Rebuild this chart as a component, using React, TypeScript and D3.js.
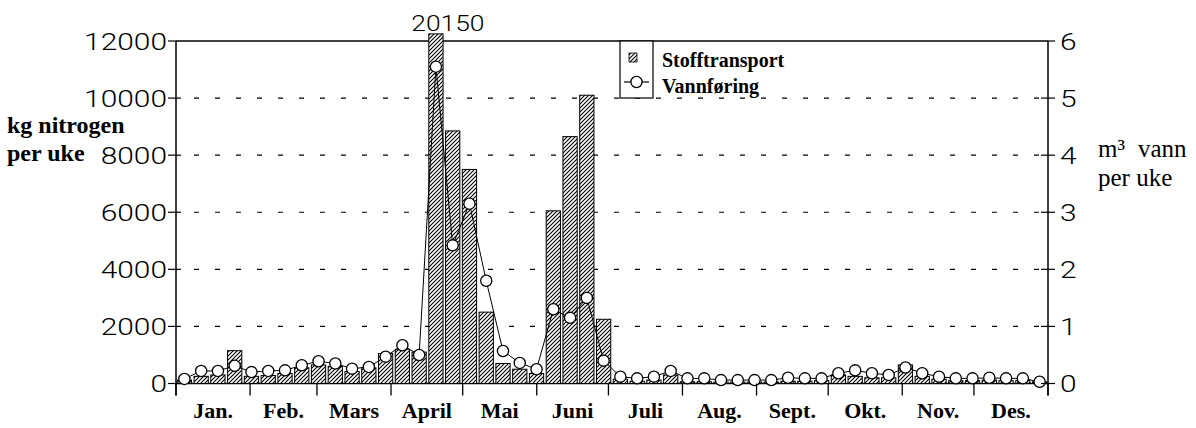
import React from 'react';
import * as d3 from 'd3';

// Weekly nitrogen transport (kg per week), week 1..52
const transport = [
  120, 250, 300, 1150, 250, 280, 350, 550, 650, 600, 420, 550, 1050,
  1200, 1100, 20150, 8850, 7500, 2500, 700, 500, 350, 6050, 8650, 10100, 2250,
  150, 80, 120, 300, 60, 60, 50, 50, 50, 50, 80, 80, 100,
  300, 250, 200, 200, 650, 250, 150, 100, 100, 120, 100, 100, 60,
];
// Weekly water discharge (m3 per week, millions)
const flow = [
  0.08, 0.22, 0.22, 0.31, 0.2, 0.22, 0.23, 0.32, 0.39, 0.35, 0.26, 0.29, 0.47,
  0.67, 0.5, 5.55, 2.42, 3.15, 1.8, 0.57, 0.36, 0.25, 1.3, 1.15, 1.5, 0.4,
  0.12, 0.09, 0.12, 0.22, 0.09, 0.09, 0.06, 0.06, 0.06, 0.06, 0.1, 0.09, 0.09,
  0.18, 0.23, 0.18, 0.15, 0.28, 0.18, 0.12, 0.09, 0.09, 0.1, 0.09, 0.09, 0.03,
];
const months = ['Jan.', 'Feb.', 'Mars', 'April', 'Mai', 'Juni', 'Juli', 'Aug.', 'Sept.', 'Okt.', 'Nov.', 'Des.'];
const monthStartDays = [0, 31, 59, 90, 120, 151, 181, 212, 243, 273, 304, 334, 365];
const leftTicks = [0, 2000, 4000, 6000, 8000, 10000, 12000];
const gridTicks = [2000, 4000, 6000, 8000, 10000];
const rightTicks = [0, 1, 2, 3, 4, 5, 6];
const peakLabel = '20150';
const legendLabels = ['Stofftransport', 'Vannføring'];

const W = 1196, H = 428;
const L = 176, R = 1048, T = 41, B = 383.5;

const sans = 'Roboto, "Liberation Sans", Arial, sans-serif';
const serif = '"Liberation Serif", "Times New Roman", serif';

export default function App() {
  const y = d3.scaleLinear().domain([0, 12000]).range([B, T]);
  const y2 = d3.scaleLinear().domain([0, 6]).range([B, T]);
  const xb = d3.scaleBand<number>().domain(transport.map((_, i) => i)).range([L, R]).paddingInner(0.15).paddingOuter(0.075);
  const xd = d3.scaleLinear().domain([0, 365]).range([L, R]);
  const bw = xb.bandwidth();
  const clipTop = 12250;
  const line = d3.line<number>().x((_, i) => (xb(i) as number) + bw / 2).y((d) => y2(d));

  const peakIdx = transport.indexOf(d3.max(transport) as number);

  return (
    <div style={{ position: 'absolute', left: 0, top: 0 }}>
      <svg width={W} height={H} style={{ display: 'block', background: '#fff' }}>
        <defs>
          <pattern id="hatch" patternUnits="userSpaceOnUse" width="4" height="4">
            <rect width="4" height="4" fill="#fff" />
            <path d="M-1,1 l2,-2 M0,4 l4,-4 M3,5 l2,-2" stroke="#000" strokeWidth="1.1" />
          </pattern>
        </defs>
        <rect width={W} height={H} fill="#fff" />

        {/* dashed gridlines */}
        {gridTicks.map((t) => (
          <line key={t} x1={L + 18} x2={R - 6} y1={y(t)} y2={y(t)} stroke="#000" strokeWidth={1.2} strokeDasharray="5,16" />
        ))}

        {/* frame */}
        <line x1={L} x2={R} y1={T} y2={T} stroke="#000" strokeWidth={1.3} />
        <line x1={L} x2={R} y1={B} y2={B} stroke="#000" strokeWidth={1.3} />
        <line x1={L} x2={L} y1={T} y2={B + 12} stroke="#000" strokeWidth={1.5} />
        <line x1={R} x2={R} y1={T} y2={B + 12} stroke="#000" strokeWidth={1.5} />

        {/* bars */}
        {transport.map((v, i) => {
          const top = y(Math.min(v, clipTop));
          return (
            <rect key={i} x={xb(i)} y={top} width={bw} height={B - top} fill="url(#hatch)" stroke="#000" strokeWidth={1} />
          );
        })}

        {/* flow line */}
        <path d={line(flow) as string} fill="none" stroke="#000" strokeWidth={1} />
        {flow.map((v, i) => (
          <circle key={i} cx={(xb(i) as number) + bw / 2} cy={y2(v)} r={5.6} fill="#fff" stroke="#000" strokeWidth={1.3} />
        ))}

        {/* peak label */}
        <text transform={`translate(${(xb(peakIdx) as number) + bw / 2 + 12},31) scale(1.2,1)`} textAnchor="middle" fontFamily={sans} fontWeight={300} fontSize={22}>
          {peakLabel}
        </text>

        {/* left axis ticks and labels */}
        {leftTicks.map((t) => (
          <g key={t}>
            <line x1={L - 8} x2={t === 12000 ? L : L + 5} y1={y(t)} y2={y(t)} stroke="#000" strokeWidth={1.2} />
            <text transform={`translate(${L - 9},${y(t) + 8.5}) scale(1.3,1)`} textAnchor="end" fontFamily={sans} fontWeight={300} fontSize={23}>
              {t}
            </text>
          </g>
        ))}

        {/* right axis ticks and labels */}
        {rightTicks.map((t) => (
          <g key={t}>
            <line x1={t === 6 ? R : R - 7} x2={R + 7} y1={y2(t)} y2={y2(t)} stroke="#000" strokeWidth={1.2} />
            <text transform={`translate(${R + 12},${y2(t) + 8.5}) scale(1.3,1)`} textAnchor="start" fontFamily={sans} fontWeight={300} fontSize={23}>
              {t}
            </text>
          </g>
        ))}

        {/* month ticks and labels */}
        {monthStartDays.map((d) => (
          <line key={d} x1={xd(d)} x2={xd(d)} y1={B} y2={B + 12} stroke="#000" strokeWidth={1.3} />
        ))}
        {months.map((m, i) => (
          <text key={m} x={xd((monthStartDays[i] + monthStartDays[i + 1]) / 2)} y={418} textAnchor="middle" fontFamily={serif} fontWeight="bold" fontSize={22}>
            {m}
          </text>
        ))}

        {/* axis titles */}
        <text x={7} y={133} fontFamily={serif} fontWeight="bold" fontSize={24}>kg nitrogen</text>
        <text x={7} y={161} fontFamily={serif} fontWeight="bold" fontSize={24}>per uke</text>
        <text x={1098} y={157} fontFamily={serif} fontSize={25}>
          m³<tspan dx={13}>vann</tspan>
        </text>
        <text x={1098} y={186} fontFamily={serif} fontSize={25}>per uke</text>

        {/* legend */}
        <rect x={620} y={T} width={33} height={57} fill="#fff" stroke="#000" strokeWidth={1.2} />
        <rect x={629} y={53} width={8} height={9} fill="url(#hatch)" stroke="#000" strokeWidth={0.8} />
        <line x1={624} x2={649} y1={82} y2={82} stroke="#000" strokeWidth={1.2} />
        <circle cx={636.5} cy={82} r={5.6} fill="#fff" stroke="#000" strokeWidth={1.3} />
        <text x={662} y={67} fontFamily={serif} fontWeight="bold" fontSize={20}>{legendLabels[0]}</text>
        <text x={662} y={93} fontFamily={serif} fontWeight="bold" fontSize={20}>{legendLabels[1]}</text>
      </svg>
    </div>
  );
}
